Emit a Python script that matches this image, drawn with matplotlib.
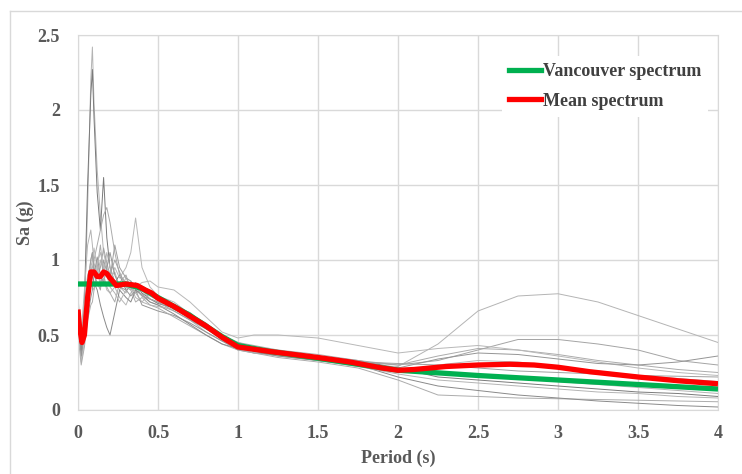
import numpy as np
import matplotlib.pyplot as plt
from matplotlib.lines import Line2D

# Period grid (s) shared by the ground motion records
periods = [0, 0.02, 0.04, 0.06, 0.08, 0.09, 0.1, 0.12, 0.14, 0.16, 0.18, 0.2,
           0.23, 0.26, 0.3, 0.33, 0.36, 0.4, 0.45, 0.5, 0.6, 0.7, 0.8, 0.9,
           1.0, 1.1, 1.25, 1.5, 1.75, 2.0, 2.25, 2.5, 2.75, 3.0, 3.25, 3.5,
           3.75, 4.0]

# Individual record spectra, Sa (g)
rec1 = [0.62, 0.42, 0.65, 1.35, 2.2, 2.42, 2.05, 1.6, 1.3, 1.05, 0.95, 0.88, 0.92, 0.82, 0.78, 0.86, 0.8, 0.76, 0.72, 0.70,
        0.66, 0.60, 0.52, 0.46, 0.42, 0.41, 0.38, 0.34, 0.30, 0.27, 0.25, 0.23, 0.21, 0.19, 0.17, 0.15, 0.13, 0.11]
rec2 = [0.70, 0.38, 0.72, 1.5, 2.1, 2.27, 1.95, 1.45, 1.2, 1.55, 1.15, 0.95, 0.85, 0.9, 0.8, 0.82, 0.84, 0.78, 0.74, 0.71,
        0.68, 0.62, 0.55, 0.47, 0.43, 0.42, 0.39, 0.36, 0.33, 0.28, 0.22, 0.2, 0.18, 0.16, 0.14, 0.12, 0.11, 0.09]
rec3 = [0.55, 0.35, 0.5, 0.75, 0.9, 0.95, 1.0, 1.1, 1.2, 1.3, 1.35, 1.25, 1.05, 0.9, 0.85, 0.82, 0.78, 0.8, 0.76, 0.73,
        0.7, 0.63, 0.57, 0.5, 0.45, 0.43, 0.4, 0.37, 0.33, 0.30, 0.36, 0.41, 0.40, 0.37, 0.33, 0.30, 0.27, 0.25]
rec4 = [0.68, 0.32, 0.45, 0.7, 0.85, 0.82, 0.8, 0.92, 0.85, 0.95, 0.9, 0.85, 0.95, 0.88, 0.95, 1.05, 1.28, 0.95, 0.82, 0.76,
        0.72, 0.64, 0.58, 0.49, 0.44, 0.42, 0.40, 0.35, 0.31, 0.26, 0.30, 0.33, 0.32, 0.29, 0.26, 0.23, 0.21, 0.19]
rec5 = [0.75, 0.5, 0.8, 1.1, 1.2, 1.1, 0.98, 0.9, 1.0, 0.92, 1.05, 0.95, 0.85, 0.8, 0.88, 0.82, 0.75, 0.72, 0.78, 0.74,
        0.7, 0.6, 0.55, 0.47, 0.41, 0.38, 0.36, 0.33, 0.30, 0.29, 0.44, 0.66, 0.76, 0.775, 0.72, 0.63, 0.54, 0.45]
rec6 = [0.6, 0.4, 0.55, 0.8, 1.0, 1.05, 0.95, 0.88, 0.95, 1.08, 0.98, 0.9, 1.0, 0.92, 0.82, 0.8, 0.85, 0.8, 0.74, 0.72,
        0.69, 0.65, 0.56, 0.5, 0.45, 0.42, 0.39, 0.35, 0.32, 0.30, 0.33, 0.40, 0.47, 0.47, 0.44, 0.40, 0.33, 0.30]
rec7 = [0.65, 0.45, 0.6, 0.78, 0.95, 1.0, 1.08, 0.95, 0.82, 0.88, 0.8, 0.78, 0.82, 0.75, 0.7, 0.78, 0.82, 0.85, 0.86, 0.82,
        0.80, 0.72, 0.62, 0.52, 0.48, 0.5, 0.5, 0.48, 0.43, 0.38, 0.41, 0.43, 0.40, 0.36, 0.32, 0.28, 0.25, 0.23]
rec8 = [0.58, 0.36, 0.5, 0.62, 0.75, 0.8, 0.9, 1.02, 0.9, 0.85, 0.95, 1.05, 0.9, 0.82, 0.8, 0.76, 0.8, 0.7, 0.68, 0.66,
        0.63, 0.58, 0.52, 0.46, 0.40, 0.38, 0.37, 0.34, 0.31, 0.28, 0.34, 0.38, 0.37, 0.34, 0.31, 0.30, 0.32, 0.36]
rec9 = [0.5, 0.3, 0.42, 0.6, 0.7, 0.72, 0.8, 0.95, 1.1, 0.9, 0.82, 0.78, 0.72, 0.85, 0.9, 0.8, 0.72, 0.75, 0.7, 0.68,
        0.62, 0.56, 0.5, 0.44, 0.40, 0.38, 0.35, 0.32, 0.28, 0.2, 0.1, 0.09, 0.08, 0.075, 0.07, 0.065, 0.06, 0.055]
rec10 = [0.62, 0.4, 0.55, 0.72, 0.85, 0.9, 0.85, 0.8, 0.7, 0.62, 0.55, 0.5, 0.65, 0.8, 0.75, 0.72, 0.8, 0.77, 0.72, 0.7,
         0.64, 0.57, 0.5, 0.44, 0.41, 0.39, 0.36, 0.33, 0.30, 0.22, 0.16, 0.13, 0.10, 0.08, 0.06, 0.045, 0.03, 0.02]
rec11 = [0.72, 0.44, 0.62, 0.85, 1.0, 1.05, 0.9, 0.85, 0.8, 1.0, 0.92, 0.88, 1.1, 0.95, 0.88, 0.86, 0.82, 0.76, 0.74, 0.72,
         0.66, 0.6, 0.54, 0.48, 0.43, 0.41, 0.38, 0.35, 0.32, 0.31, 0.30, 0.28, 0.26, 0.25, 0.24, 0.23, 0.225, 0.22]
rec12 = [0.66, 0.5, 0.7, 0.9, 0.96, 0.92, 0.88, 0.98, 1.05, 0.95, 0.9, 0.82, 0.78, 0.72, 0.8, 0.84, 0.78, 0.72, 0.7, 0.69,
         0.67, 0.62, 0.55, 0.48, 0.43, 0.42, 0.38, 0.33, 0.29, 0.24, 0.20, 0.18, 0.16, 0.14, 0.12, 0.11, 0.09, 0.08]
records = [rec1, rec2, rec3, rec4, rec5, rec6, rec7, rec8, rec9, rec10, rec11, rec12]
rec_colors = ['#b4b4b4', '#7a7a7a', '#ababab', '#b8b8b8', '#b4b4b4', '#a4a4a4',
              '#b8b8b8', '#959595', '#acacac', '#8a8a8a', '#a0a0a0', '#b4b4b4']

# Vancouver design spectrum
van_T = [0, 0.1, 0.2, 0.3, 0.4, 0.5, 0.6, 0.7, 0.8, 0.9, 1.0, 1.2, 1.5, 2.0, 2.5, 3.0, 3.5, 4.0]
van_Sa = [0.84, 0.84, 0.84, 0.84, 0.81, 0.75, 0.69, 0.63, 0.56, 0.49, 0.43, 0.39, 0.345, 0.265, 0.23, 0.20, 0.17, 0.14]

# Mean spectrum of the records
mean_T = [0, 0.01, 0.025, 0.04, 0.06, 0.08, 0.1, 0.12, 0.14, 0.16, 0.18, 0.2, 0.24, 0.3, 0.37,
          0.42, 0.46, 0.5, 0.6, 0.7, 0.8, 0.9, 1.0, 1.2, 1.5, 1.7, 1.9, 2.0, 2.1, 2.3, 2.5,
          2.7, 2.85, 3.0, 3.2, 3.5, 3.75, 4.0]
mean_Sa = [0.67, 0.55, 0.45, 0.5, 0.75, 0.92, 0.92, 0.89, 0.89, 0.92, 0.91, 0.88, 0.83, 0.84, 0.83,
           0.80, 0.78, 0.745, 0.69, 0.625, 0.56, 0.485, 0.42, 0.39, 0.35, 0.32, 0.28, 0.265, 0.27, 0.29, 0.30,
           0.305, 0.30, 0.285, 0.255, 0.22, 0.195, 0.175]

serif = 'Liberation Serif'
txt_col = '#595959'

fig = plt.figure(figsize=(7.42, 4.74), dpi=100)
ax = fig.add_axes([78 / 742, 1 - 410 / 474, 640 / 742, 375 / 474])

for rec, c in zip(records, rec_colors):
    ax.plot(periods, rec, color=c, lw=0.7, zorder=2)
ax.plot(van_T, van_Sa, color='#00b050', lw=3.8, zorder=3, solid_capstyle='butt')
ax.plot(mean_T, mean_Sa, color='#ff0000', lw=3.8, zorder=4, solid_capstyle='butt')

ax.set_xlim(0, 4)
ax.set_ylim(0, 2.5)
ax.set_xticks(np.arange(0, 4.01, 0.5))
ax.set_yticks(np.arange(0, 2.51, 0.5))
ax.set_xticklabels(['0', '0.5', '1', '1.5', '2', '2.5', '3', '3.5', '4'])
ax.set_yticklabels(['0', '0.5', '1', '1.5', '2', '2.5'])
ax.grid(True, color='#d9d9d9', lw=1.0)
ax.set_axisbelow(True)
for s in ax.spines.values():
    s.set_color('#d9d9d9')
ax.tick_params(length=0, labelsize=13, labelcolor=txt_col)
ax.tick_params(axis='y', pad=13)
ax.tick_params(axis='x', pad=11)
for lbl in ax.get_xticklabels() + ax.get_yticklabels():
    lbl.set_fontfamily(serif)
    lbl.set_fontweight('bold')

ax.set_xlabel('Period (s)', fontfamily=serif, fontweight='bold', fontsize=13, color=txt_col, labelpad=5)
ax.set_ylabel('Sa (g)', fontfamily=serif, fontweight='bold', fontsize=13, color=txt_col)
ax.yaxis.set_label_coords(-0.068, 0.5)

handles = [Line2D([], [], color='#00b050', lw=3.8), Line2D([], [], color='#ff0000', lw=3.8)]
leg = fig.legend(handles, ['Vancouver spectrum', 'Mean spectrum'], loc='upper left',
                 bbox_to_anchor=(493 / 742, 1 - 47 / 474), bbox_transform=fig.transFigure,
                 frameon=True, facecolor='white', edgecolor='none', framealpha=1, fancybox=False,
                 prop={'family': serif, 'weight': 'bold', 'size': 13},
                 handlelength=1.75, handletextpad=0.1, labelspacing=0.68, borderpad=0.4)
for t in leg.get_texts():
    t.set_color('#404040')

# outer chart frame (top and left edges visible)
fig.add_artist(Line2D([10 / 742, 10 / 742], [0, 1 - 11 / 474], transform=fig.transFigure, color='#d9d9d9', lw=1))
fig.add_artist(Line2D([10 / 742, 1], [1 - 11 / 474, 1 - 11 / 474], transform=fig.transFigure, color='#d9d9d9', lw=1))

fig.savefig('out.png', dpi=100)
